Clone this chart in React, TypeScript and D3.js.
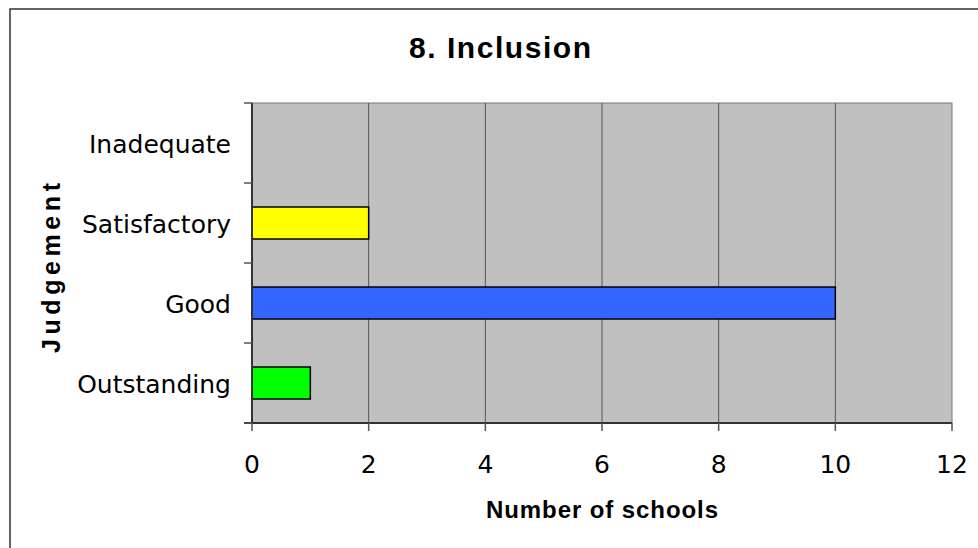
import React from "react";
import * as d3 from "d3";

const categories = ["Inadequate", "Satisfactory", "Good", "Outstanding"];
const values = [0, 2, 10, 1];
const barColors = ["#FF0000", "#FFFF00", "#3366FF", "#00FF00"];
const xTicks = [0, 2, 4, 6, 8, 10, 12];
const title = "8. Inclusion";
const xTitle = "Number of schools";
const yTitle = "Judgement";

const W = 978;
const H = 548;
const plot = { left: 252, right: 952, top: 103, bottom: 423 };
const LABEL_FONT = "'DejaVu Sans', Verdana, sans-serif";
const BOLD_FONT = "'Liberation Sans', Arial, sans-serif";

export default function App() {
  const x = d3.scaleLinear().domain([0, 12]).range([plot.left, plot.right]);
  const y = d3
    .scaleBand<string>()
    .domain(categories)
    .range([plot.top, plot.bottom])
    .paddingInner(0.6)
    .paddingOuter(0.3);
  const band = d3
    .scaleBand<string>()
    .domain(categories)
    .range([plot.top, plot.bottom]);
  const tickYs = [plot.top, ...categories.map((c) => (band(c) as number) + band.bandwidth())];

  return (
    <svg
      width={W}
      height={H}
      style={{ position: "absolute", left: 0, top: 0, background: "#fff" }}
    >
      <rect x={10} y={9} width={1000} height={600} fill="#fff" stroke="#333" strokeWidth={1.5} />
      <text
        x={500}
        y={58}
        textAnchor="middle"
        fontFamily={BOLD_FONT}
        fontWeight="bold"
        fontSize={30}
        textLength={182}
        lengthAdjust="spacing"
      >
        {title}
      </text>
      <rect
        x={plot.left}
        y={plot.top}
        width={plot.right - plot.left}
        height={plot.bottom - plot.top}
        fill="#C0C0C0"
        stroke="#777"
        strokeWidth={1}
      />
      {xTicks.slice(1, -1).map((t) => (
        <line key={t} x1={x(t)} x2={x(t)} y1={plot.top} y2={plot.bottom} stroke="#555" strokeWidth={1} />
      ))}
      {categories.map((c, i) =>
        values[i] > 0 ? (
          <rect
            key={c}
            x={x(0)}
            y={y(c)}
            width={x(values[i]) - x(0)}
            height={y.bandwidth()}
            fill={barColors[i]}
            stroke="#000"
            strokeWidth={1.5}
          />
        ) : null
      )}
      {/* axes */}
      <line x1={plot.left} x2={plot.left} y1={plot.top} y2={plot.bottom} stroke="#333" strokeWidth={2} />
      <line x1={plot.left - 8} x2={plot.right} y1={plot.bottom} y2={plot.bottom} stroke="#333" strokeWidth={2} />
      {tickYs.map((ty, i) => (
        <line key={i} x1={plot.left - 8} x2={plot.left} y1={ty} y2={ty} stroke="#555" strokeWidth={1.5} />
      ))}
      {xTicks.map((t) => (
        <line key={t} x1={x(t)} x2={x(t)} y1={plot.bottom} y2={plot.bottom + 8} stroke="#555" strokeWidth={1.5} />
      ))}
      {xTicks.map((t) => (
        <text
          key={t}
          x={x(t)}
          y={473}
          textAnchor="middle"
          fontFamily={LABEL_FONT}
          fontSize={25}
        >
          {t}
        </text>
      ))}
      {categories.map((c) => (
        <text
          key={c}
          x={231}
          y={(band(c) as number) + band.bandwidth() / 2 + 10}
          textAnchor="end"
          fontFamily={LABEL_FONT}
          fontSize={25}
        >
          {c}
        </text>
      ))}
      <text
        x={(plot.left + plot.right) / 2}
        y={518}
        textAnchor="middle"
        fontFamily={BOLD_FONT}
        fontWeight="bold"
        fontSize={24}
        textLength={232}
        lengthAdjust="spacing"
      >
        {xTitle}
      </text>
      <text
        transform={`translate(60, 268) rotate(-90)`}
        textAnchor="middle"
        fontFamily={BOLD_FONT}
        fontWeight="bold"
        fontSize={25}
        textLength={170}
        lengthAdjust="spacing"
      >
        {yTitle}
      </text>
    </svg>
  );
}
